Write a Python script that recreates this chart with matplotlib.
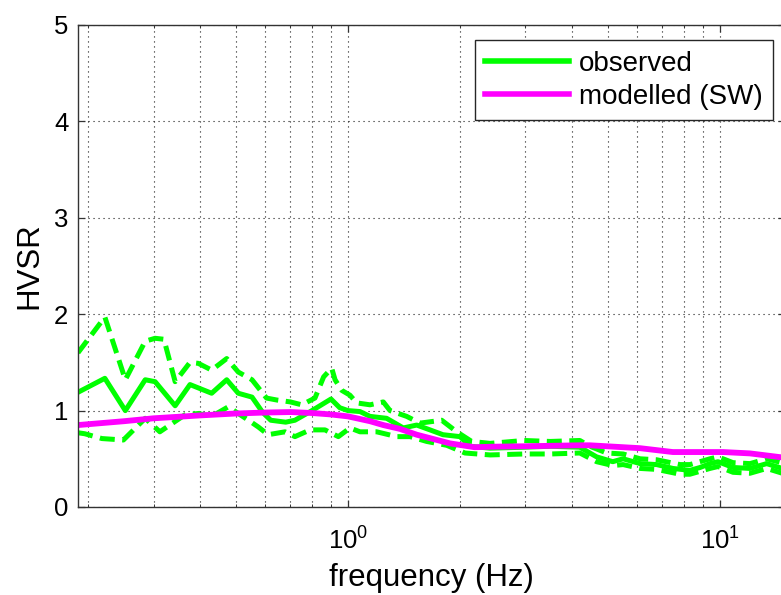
import matplotlib
matplotlib.use("Agg")
import matplotlib.pyplot as plt
from matplotlib.ticker import LogLocator, NullFormatter, FixedLocator

plt.rcParams['font.family'] = ['Liberation Sans', 'DejaVu Sans']
plt.rcParams['mathtext.fontset'] = 'custom'
plt.rcParams['mathtext.rm'] = 'Liberation Sans'
plt.rcParams['mathtext.it'] = 'Liberation Sans'

# ---- data ----
freq_mean = [0.188, 0.222, 0.252, 0.285, 0.303, 0.343, 0.376, 0.430, 0.472, 0.507,
             0.552, 0.590, 0.620, 0.680, 0.720, 0.800, 0.900, 0.950, 1.0, 1.077,
             1.146, 1.27, 1.408, 1.53, 1.661, 1.80, 2.0, 2.128, 2.41, 2.97, 3.5,
             4.2, 4.66, 5.15, 5.49, 6.1, 6.76, 7.47, 8.3, 8.84, 9.4, 9.88, 10.84,
             12.04, 13.35, 15.0]
hvsr_mean = [1.19, 1.335, 1.00, 1.32, 1.30, 1.05, 1.27, 1.18, 1.32, 1.18,
             1.14, 0.98, 0.90, 0.88, 0.90, 1.00, 1.12, 1.03, 1.00, 0.99,
             0.94, 0.92, 0.82, 0.85, 0.80, 0.75, 0.73, 0.63, 0.61, 0.62, 0.63,
             0.62, 0.52, 0.47, 0.50, 0.45, 0.44, 0.40, 0.38, 0.41, 0.45, 0.47, 0.41,
             0.40, 0.45, 0.39]

freq_upper = [0.188, 0.222, 0.252, 0.285, 0.303, 0.320, 0.343, 0.376, 0.396, 0.430,
              0.472, 0.507, 0.552, 0.604, 0.643, 0.700, 0.751, 0.815, 0.860, 0.904,
              0.923, 0.962, 1.012, 1.055, 1.146, 1.244, 1.297, 1.438, 1.561, 1.786,
              1.96, 2.15, 2.41, 2.97, 3.5, 4.2, 4.47, 4.96, 5.49, 6.1, 6.76, 7.81,
              8.3, 9.4, 9.88, 10.84, 12.04, 13.35, 15.0]
hvsr_upper = [1.60, 1.97, 1.32, 1.72, 1.75, 1.74, 1.30, 1.50, 1.49, 1.42,
              1.54, 1.40, 1.32, 1.13, 1.11, 1.09, 1.06, 1.13, 1.35, 1.44,
              1.32, 1.21, 1.16, 1.08, 1.06, 1.09, 1.00, 0.94, 0.87, 0.90,
              0.78, 0.68, 0.66, 0.69, 0.68, 0.69, 0.63, 0.56, 0.55, 0.50, 0.49, 0.44,
              0.44, 0.50, 0.52, 0.46, 0.45, 0.50, 0.45]

freq_lower = [0.188, 0.196, 0.218, 0.249, 0.285, 0.312, 0.364, 0.396, 0.430, 0.477,
              0.507, 0.540, 0.574, 0.610, 0.677, 0.720, 0.791, 0.867, 0.942, 1.012,
              1.077, 1.194, 1.352, 1.468, 1.628, 1.842, 2.063, 2.41, 2.97, 3.5,
              4.2, 4.66, 5.15, 5.49, 6.1, 6.76, 7.81, 8.3, 9.4, 9.88, 10.84, 12.04,
              13.35, 15.0]
hvsr_lower = [0.77, 0.76, 0.71, 0.695, 0.92, 0.78, 0.955, 0.97, 0.94, 1.04,
              0.97, 0.90, 0.83, 0.75, 0.78, 0.73, 0.80, 0.80, 0.73, 0.82,
              0.78, 0.78, 0.73, 0.73, 0.68, 0.64, 0.56, 0.54, 0.55, 0.55,
              0.56, 0.47, 0.43, 0.44, 0.40, 0.39, 0.34, 0.34, 0.40, 0.42, 0.36, 0.35,
              0.40, 0.34]

freq_model = [0.188, 0.25, 0.30, 0.40, 0.50, 0.60, 0.70, 0.80, 0.90, 1.0, 1.146,
              1.244, 1.38, 1.53, 1.88, 2.19, 2.41, 3.0, 4.2, 4.47, 6.1, 7.47,
              10.2, 12.04, 15.0]
hvsr_model = [0.85, 0.89, 0.92, 0.95, 0.97, 0.98, 0.985, 0.975, 0.96, 0.94, 0.89,
              0.85, 0.81, 0.75, 0.66, 0.62, 0.625, 0.63, 0.64, 0.64, 0.61, 0.57,
              0.57, 0.556, 0.51]

labels = ["observed", "modelled (SW)"]
xlim = (0.188, 15.0)
ylim = (0, 5)
yticks = [0, 1, 2, 3, 4, 5]

GREEN = '#00ff00'
MAGENTA = '#ff00ff'

fig = plt.figure(figsize=(7.81, 5.95), dpi=100)
W, H = 781, 595
ax = fig.add_axes([78 / W, 88 / H, (785.5 - 78) / W, (507 - 25) / H])

lw = 3.6
ax.plot(freq_mean, hvsr_mean, color=GREEN, lw=lw, label=labels[0])
ax.plot(freq_upper, hvsr_upper, color=GREEN, lw=lw, dashes=(3.0, 1.5))
ax.plot(freq_lower, hvsr_lower, color=GREEN, lw=lw, dashes=(3.0, 1.5))
ax.plot(freq_model, hvsr_model, color=MAGENTA, lw=lw + 0.6, label=labels[1])

ax.set_xscale('log')
ax.set_xlim(*xlim)
ax.set_ylim(*ylim)
ax.yaxis.set_major_locator(FixedLocator(yticks))
ax.xaxis.set_major_locator(LogLocator(base=10))
ax.xaxis.set_minor_locator(LogLocator(base=10, subs=range(2, 10)))
ax.xaxis.set_minor_formatter(NullFormatter())

grid_kw = dict(color='0.1', linestyle=(0, (1, 3.5)), linewidth=0.8)
ax.grid(True, which='major', axis='both', **grid_kw)
ax.grid(True, which='minor', axis='x', **grid_kw)
ax.set_axisbelow(True)

for s in ax.spines.values():
    s.set_color('0.2')
    s.set_linewidth(1.0)

ax.tick_params(which='both', direction='in', top=True, right=True,
               colors='0.2', labelcolor='black', labelsize=18.5)
ax.tick_params(which='major', length=5, width=0.9)
ax.tick_params(axis='y', which='major', pad=7)
ax.tick_params(axis='x', which='major', pad=15)
ax.tick_params(which='minor', length=2.5, width=0.7)

ax.set_xlabel('frequency (Hz)', fontsize=22.5, labelpad=6)
ax.set_ylabel('HVSR', fontsize=22.5, labelpad=7)

leg = ax.legend(loc='upper right', bbox_to_anchor=(773 / W, 1 - 40 / H),
                bbox_transform=fig.transFigure, fontsize=20, frameon=True,
                fancybox=False, edgecolor='0.15', framealpha=1,
                handlelength=3.0, handletextpad=0.36, borderpad=0.38,
                labelspacing=0.25, borderaxespad=0)
leg.get_frame().set_linewidth(1.0)
for line in leg.get_lines():
    line.set_linewidth(4)

fig.savefig('out.png', dpi=100)
